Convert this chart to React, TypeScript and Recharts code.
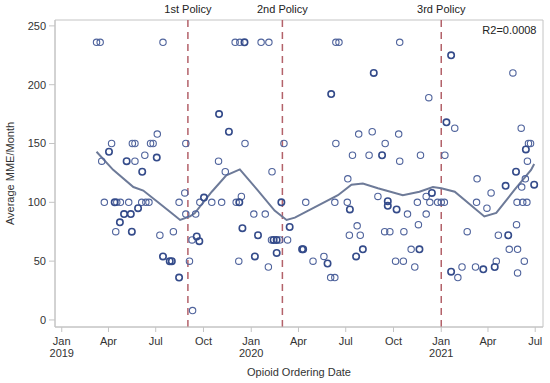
import React from "react";
import {
  ComposedChart,
  Scatter,
  Line,
  XAxis,
  YAxis,
  ReferenceLine,
  ReferenceArea,
} from "recharts";

// x = days since 2019-01-01, y = average MME per month
const singleObs: [number, number][] = [
  [67, 236], [74, 236], [195, 236], [184, 158],
  [96, 150], [136, 150], [141, 150], [171, 150], [176, 150],
  [77, 135], [141, 135], [160, 140],
  [82, 100], [106, 100], [113, 100], [129, 100], [154, 100], [162, 100], [168, 100],
  [104, 75], [189, 72], [215, 75],
  [226, 100], [237, 108], [239, 90], [239, 150],
  [246, 50], [252, 8], [251, 68], [258, 90], [266, 100], [289, 100], [308, 100],
  [302, 135], [315, 126], [353, 150],
  [334, 236], [343, 236], [384, 236], [399, 236],
  [336, 100], [346, 105], [341, 50],
  [370, 90], [392, 90], [398, 45],
  [404, 68], [420, 68], [435, 68],
  [405, 126], [428, 150],
  [470, 100], [484, 50], [505, 54], [518, 36], [526, 36], [526, 100],
  [550, 100], [551, 120], [569, 80], [554, 72], [575, 72],
  [528, 236], [534, 236], [651, 236],
  [528, 150], [572, 158], [598, 160], [623, 150], [649, 158],
  [560, 140], [592, 140], [651, 135], [691, 140],
  [609, 105], [666, 90],
  [622, 75], [632, 75], [659, 75], [643, 50], [658, 50], [673, 60], [680, 45],
  [685, 100], [687, 81], [702, 90], [702, 105], [709, 100], [707, 189],
  [724, 100], [731, 100], [737, 100], [738, 140],
  [757, 163], [763, 36], [771, 45], [781, 75], [797, 45],
  [799, 100], [800, 120], [819, 95], [827, 108], [837, 50], [841, 72], [862, 60],
  [869, 210], [877, 100], [876, 81], [878, 60], [878, 40], [885, 163], [886, 113],
  [888, 100], [891, 50], [893, 120], [896, 100], [897, 135], [899, 150], [903, 150],
];

// observations that appear stacked (drawn bolder)
const stackedObs: [number, number][] = [
  [91, 143], [125, 135], [183, 138], [155, 126], [102, 100], [147, 95],
  [120, 90], [133, 90], [112, 83], [135, 75], [195, 54], [208, 50], [212, 50], [226, 36],
  [260, 71], [265, 67], [274, 104], [303, 175], [322, 160], [352, 236], [342, 100],
  [348, 78], [372, 54], [378, 72], [408, 68], [414, 68], [414, 57], [423, 100], [439, 79],
  [463, 60], [465, 60], [512, 48], [555, 94], [567, 54], [580, 60], [601, 210], [519, 192],
  [617, 140], [628, 101], [628, 97], [645, 94], [689, 60], [713, 108],
  [750, 225], [741, 168], [750, 41], [812, 43], [834, 45], [860, 72], [855, 114],
  [875, 126], [894, 145], [910, 115],
];

const fitDays = [67, 99, 138, 157, 180, 212, 228, 247, 256, 289, 317, 343, 376, 410, 433, 449, 532, 558, 580, 609, 657, 689, 715, 731, 757, 814, 837, 872, 904, 910];
const fitValues = [143, 127.6, 113, 110, 102, 90.7, 85, 88, 90.7, 109, 123, 128, 111, 93, 85, 87, 106, 115, 116, 112, 106, 109, 113, 112, 109, 88, 91, 110.5, 127.6, 132.6];

const tickDays = [0, 90, 181, 273, 365, 456, 547, 639, 731, 821, 912];
const tickMonths = ["Jan", "Apr", "Jul", "Oct", "Jan", "Apr", "Jul", "Oct", "Jan", "Apr", "Jul"];
const tickYears = ["2019", "", "", "", "2020", "", "", "", "2021", "", ""];
const yTicks = [0, 50, 100, 150, 200, 250];

const policyDays = [243, 425, 731];
const policyLabels = ["1st Policy", "2nd Policy", "3rd Policy"];

const singleData = singleObs.map(([day, mme]) => ({ day, mme }));
const stackedData = stackedObs.map(([day, mme]) => ({ day, mme }));
const fitData = fitDays.map((day, i) => ({ day, fit: fitValues[i] }));

const FRAME = "#c4c4c4";
const TEXT = "#333";

function DateTick(props: any) {
  const { x, y, payload } = props;
  const i = tickDays.indexOf(payload.value);
  return (
    <g transform={`translate(${x},${y})`}>
      <text x={0} y={0} dy={10.5} textAnchor="middle" fill={TEXT} fontSize={11}>
        {tickMonths[i]}
      </text>
      {tickYears[i] ? (
        <text x={0} y={0} dy={22.5} textAnchor="middle" fill={TEXT} fontSize={11}>
          {tickYears[i]}
        </text>
      ) : null}
    </g>
  );
}

const makeCircle = (color: string, sw: number) => (p: any) =>
  <circle cx={p.cx} cy={p.cy} r={3.2} fill="none" stroke={color} strokeWidth={sw} />;

export default function App() {
  return (
    <div
      style={{
        position: "absolute",
        left: 0,
        top: 0,
        fontFamily: "'Liberation Sans', Arial, sans-serif",
        background: "#fff",
      }}
    >
      <ComposedChart
        width={550}
        height={383}
        margin={{ top: 20, right: 7, bottom: 0, left: 0 }}
      >
        <XAxis
          type="number"
          dataKey="day"
          domain={[-13, 927]}
          ticks={tickDays}
          interval={0}
          allowDataOverflow
          height={56}
          tick={<DateTick />}
          tickSize={5}
          tickMargin={2}
          axisLine={{ stroke: FRAME }}
          tickLine={{ stroke: FRAME }}
          label={{ value: "Opioid Ordering Date", position: "insideBottom", offset: 7, fill: TEXT, fontSize: 11 }}
        />
        <YAxis
          type="number"
          domain={[-6, 255]}
          ticks={yTicks}
          interval={0}
          allowDataOverflow
          width={55}
          tickSize={6}
          tickMargin={3}
          tick={{ fill: TEXT, fontSize: 11 }}
          axisLine={{ stroke: FRAME }}
          tickLine={{ stroke: FRAME }}
          label={{
            value: "Average MME/Month",
            angle: -90,
            position: "insideLeft",
            dx: 5,
            fill: TEXT,
            fontSize: 11,
            style: { textAnchor: "middle" },
          }}
        />
        <ReferenceArea
          x1={-13}
          x2={927}
          y1={-6}
          y2={255}
          fill="none"
          fillOpacity={0}
          stroke={FRAME}
          strokeOpacity={1}
          label={{ value: "R2=0.0008", position: "insideTopRight", offset: 6.5, fill: "#222", fontSize: 11 }}
        />
        {policyDays.map((d, i) => (
          <ReferenceLine
            key={d}
            x={d}
            stroke="#b3626a"
            strokeWidth={1.5}
            strokeDasharray="7 5"
            label={{ value: policyLabels[i], position: "top", offset: 7, fill: "#222", fontSize: 11 }}
          />
        ))}
        <Scatter
          data={singleData}
          dataKey="mme"
          isAnimationActive={false}
          shape={makeCircle("#4f639c", 1.1)}
        />
        <Scatter
          data={stackedData}
          dataKey="mme"
          isAnimationActive={false}
          shape={makeCircle("#344b8a", 1.6)}
        />
        <Line
          data={fitData}
          dataKey="fit"
          type="linear"
          stroke="#6d7a98"
          strokeWidth={2}
          dot={false}
          activeDot={false}
          isAnimationActive={false}
        />
      </ComposedChart>
    </div>
  );
}
